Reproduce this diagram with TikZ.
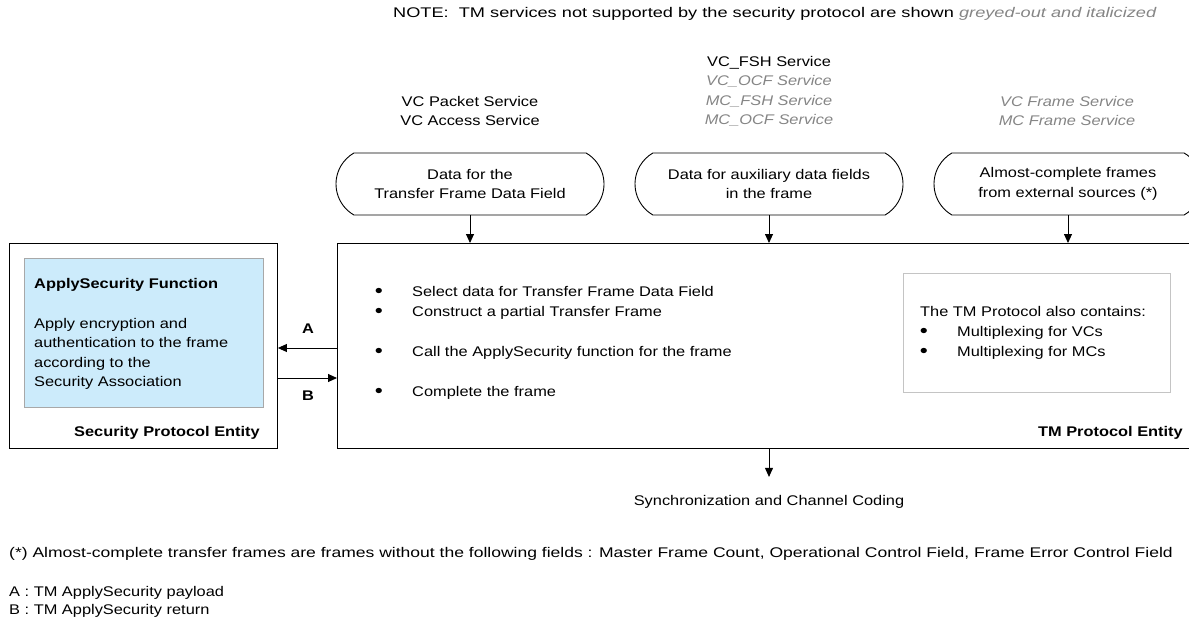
\documentclass[tikz,border=0pt]{standalone}
\usepackage{fontspec}
\setmainfont{Liberation Sans}[FakeStretch=1.17]
\usepackage{xcolor}
\usetikzlibrary{arrows.meta,positioning,shapes.misc}

\definecolor{greytext}{HTML}{858585}
\definecolor{safill}{HTML}{CCEBFB}
\definecolor{saline}{HTML}{A8A8A8}
\definecolor{noteline}{HTML}{C4C4C4}

\newcommand{\bigdot}{\raisebox{-1.5pt}{\scalebox{1.4}{\textbullet}}}

\tikzset{
    stadium/.style={draw, line width=0.9pt, rounded rectangle, rounded rectangle arc length=120,
        minimum width=268pt, minimum height=62pt, align=center, inner sep=0pt},
    entity/.style={draw, line width=0.9pt, anchor=north west, inner sep=0pt},
    flow/.style={-{Triangle[length=9pt,width=8pt]}, line width=0.9pt},
    plain/.style={inner sep=0pt},
    greyed/.style={inner sep=0pt, text=greytext, font=\fontsize{14}{19.5}\selectfont\itshape}
}

\begin{document}
\begin{tikzpicture}[x=1pt, y=-1pt, font=\fontsize{14}{19.5}\selectfont]
    \useasboundingbox (0,0) rectangle (1189,623);

    % Note
    \node[plain, anchor=base west] (note) at (393,18)
        {\scalebox{1.11}[1]{NOTE:\ \ TM services not supported by the security protocol are shown \textcolor{greytext}{\itshape greyed-out and italicized}}};

    % Services
    \node[plain, anchor=north, align=center] (srvpkt) at (470,96) {VC Packet Service\\VC Access Service};
    \node[plain, anchor=north, align=center] (srvaux) at (769,56)
        {VC\_FSH Service\\{\color{greytext}\itshape VC\_OCF Service}\\{\color{greytext}\itshape MC\_FSH Service}\\{\color{greytext}\itshape MC\_OCF Service}};
    \node[greyed, anchor=north, align=center] (srvfrm) at (1067,96) {VC Frame Service\\MC Frame Service};

    % Data sources
    \node[stadium] (datafield) at (470,184) {Data for the\\Transfer Frame Data Field};
    \node[stadium] (dataaux) at (769,184) {Data for auxiliary data fields\\in the frame};
    \node[stadium] (dataext) at (1068,184) {Almost-complete frames\\from external sources (*)};

    % Entities
    \node[entity, minimum width=268pt, minimum height=205pt] (sec) at (9,243) {};
    \node[entity, minimum width=870pt, minimum height=205pt] (tm) at (337,243) {};

    % ApplySecurity function
    \node[draw=saline, fill=safill, anchor=north west, minimum width=239pt, minimum height=149pt] (saf) at (24,258) {};
    \node[plain, anchor=base west] (saftitle) at (34,288) {\textbf{ApplySecurity Function}};
    \node[plain, anchor=north west, align=left] (saftext) at (34,318)
        {Apply encryption and\\authentication to the frame\\according to the\\Security Association};
    \node[plain, anchor=base east] (seclabel) at (260,436) {\textbf{Security Protocol Entity}};

    % TM steps
    \foreach \i/\y/\txt in {1/296/Select data for Transfer Frame Data Field,
                            2/316/Construct a partial Transfer Frame,
                            3/356/Call the ApplySecurity function for the frame,
                            4/396/Complete the frame} {
        \node[plain, anchor=base] (dot\i) at (379,\y) {\bigdot};
        \node[plain, anchor=base west] (step\i) at (412,\y) {\txt};
    }

    % Also contains
    \node[draw=noteline, anchor=north west, minimum width=267pt, minimum height=119pt] (also) at (903,273) {};
    \node[plain, anchor=base west] (alsotitle) at (920,316) {The TM Protocol also contains:};
    \node[plain, anchor=base] (mdot1) at (924,336) {\bigdot};
    \node[plain, anchor=base west] (mux1) at (957,336) {Multiplexing for VCs};
    \node[plain, anchor=base] (mdot2) at (924,356) {\bigdot};
    \node[plain, anchor=base west] (mux2) at (957,356) {Multiplexing for MCs};
    \node[plain, anchor=base east] (tmlabel) at (1183,436) {\textbf{TM Protocol Entity}};

    % Inputs
    \draw[flow] (datafield.south) -- (datafield.south |- tm.north);
    \draw[flow] (dataaux.south) -- (dataaux.south |- tm.north);
    \draw[flow] (dataext.south) -- (dataext.south |- tm.north);

    % ApplySecurity calls
    \coordinate (callA) at (0,348);
    \coordinate (callB) at (0,378);
    \draw[flow] (tm.west |- callA) -- (sec.east |- callA);
    \draw[flow] (sec.east |- callB) -- (tm.west |- callB);
    \node[plain, anchor=base] (labA) at (308,333) {\textbf{A}};
    \node[plain, anchor=base] (labB) at (308,400) {\textbf{B}};

    % Output
    \node[plain, anchor=base] (sync) at (769,505) {Synchronization and Channel Coding};
    \draw[flow] (sync |- tm.south) -- ++(0,28);

    % Footnotes
    \node[plain, anchor=base west] (fnstar) at (9,557)
        {\scalebox{1.07}[1]{(*) Almost-complete transfer frames are frames without the following fields : Master Frame Count, Operational Control Field, Frame Error Control Field}};
    \node[plain, anchor=base west] (fnA) at (9,596) {A : TM ApplySecurity payload};
    \node[plain, anchor=base west] (fnB) at (9,614) {B : TM ApplySecurity return};
\end{tikzpicture}
\end{document}
